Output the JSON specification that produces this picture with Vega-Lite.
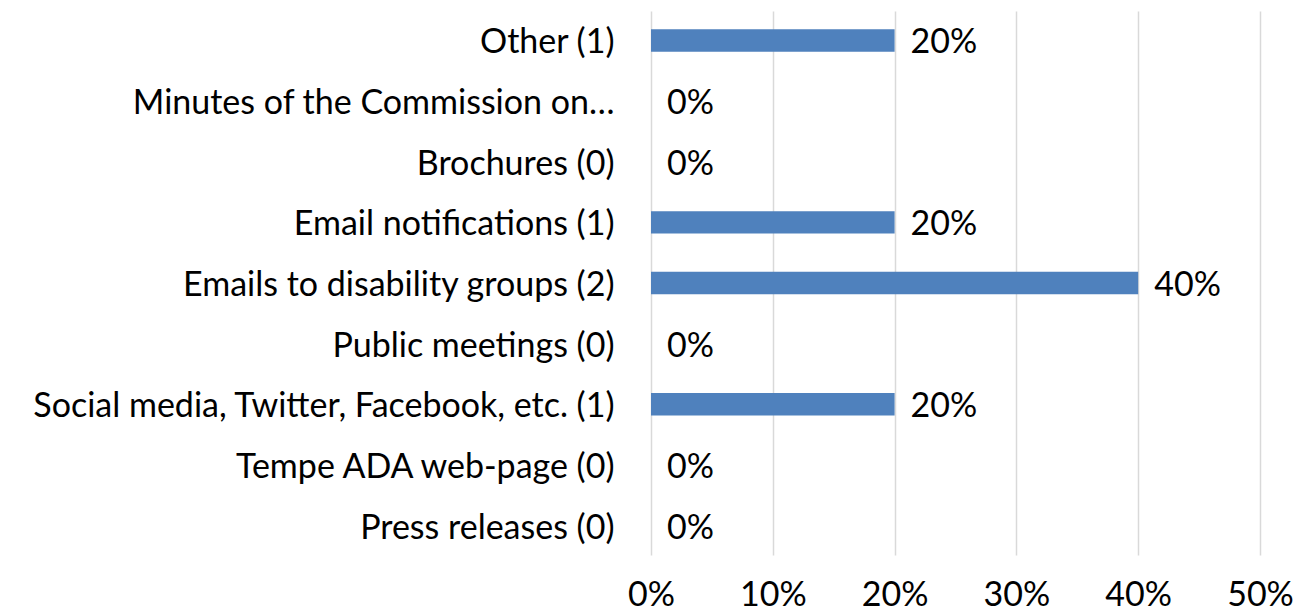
{
  "$schema": "https://vega.github.io/schema/vega-lite/v6.json",
  "width": 609,
  "height": 544,
  "autosize": "none",
  "padding": {"left": 651, "top": 11, "right": 50, "bottom": 59},
  "background": "white",
  "config": {"view": {"stroke": null}, "font": "Lato"},
  "data": {"values": [
    {"category": "Other (1)", "value": 0.2},
    {"category": "Minutes of the Commission on…", "value": 0},
    {"category": "Brochures (0)", "value": 0},
    {"category": "Email notifications (1)", "value": 0.2},
    {"category": "Emails to disability groups (2)", "value": 0.4},
    {"category": "Public meetings (0)", "value": 0},
    {"category": "Social media, Twitter, Facebook, etc. (1)", "value": 0.2},
    {"category": "Tempe ADA web-page (0)", "value": 0},
    {"category": "Press releases (0)", "value": 0}
  ]},
  "encoding": {
    "y": {"field": "category", "type": "nominal", "sort": null,
      "scale": {"paddingInner": 0.63, "paddingOuter": 0.3},
      "axis": {"title": null, "domain": false, "ticks": false, "labelPadding": 37, "labelOffset": 3, "labelFontSize": 34, "labelColor": "#000000", "labelLimit": 700}},
    "x": {"field": "value", "type": "quantitative",
      "scale": {"domain": [0, 0.5], "nice": false},
      "axis": {"title": null, "format": ".0%", "values": [0, 0.1, 0.2, 0.3, 0.4, 0.5], "domain": false, "ticks": false, "grid": true, "gridColor": "#D9D9D9", "gridWidth": 1.5, "labelFlush": false, "labelPadding": 40, "labelFontSize": 34, "labelColor": "#000000", "labelBaseline": "middle"}}
  },
  "layer": [
    {"mark": {"type": "bar", "color": "#4F81BD"}},
    {"mark": {"type": "text", "align": "left", "dx": 16, "dy": 3, "fontSize": 34, "color": "#000000"},
     "encoding": {"text": {"field": "value", "type": "quantitative", "format": ".0%"}}}
  ]
}
